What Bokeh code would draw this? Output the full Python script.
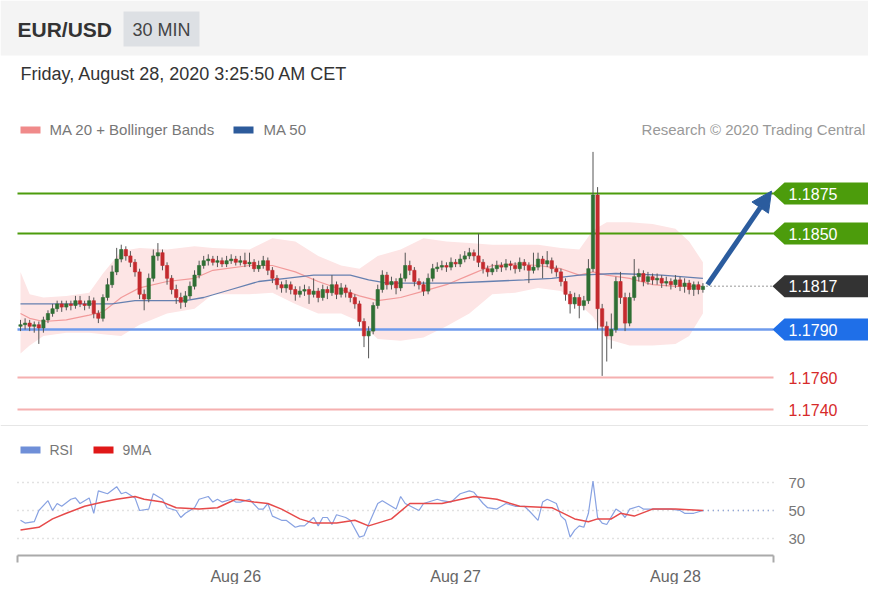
from bokeh.plotting import figure
from bokeh.models import Range1d, ColumnDataSource, Label, Arrow, NormalHead
from bokeh.core.properties import value
from bokeh.embed import file_html
from bokeh.resources import INLINE

# ---------------- data ----------------
opens = [
1.1792, 1.1793, 1.1794, 1.1792, 1.1793, 1.1791, 1.1796, 1.1800, 1.1803, 1.1806,
1.1804, 1.1806, 1.1805, 1.1808, 1.1806, 1.1805, 1.1808, 1.1800, 1.1797, 1.1810,
1.1818, 1.1826, 1.1834, 1.1840, 1.1836, 1.1832, 1.1826, 1.1812, 1.1809, 1.1822,
1.1836, 1.1838, 1.1830, 1.1822, 1.1815, 1.1810, 1.1807, 1.1811, 1.1817, 1.1824,
1.1830, 1.1833, 1.1834, 1.1832, 1.1833, 1.1831, 1.1833, 1.1834, 1.1832, 1.1833,
1.1831, 1.1832, 1.1828, 1.1830, 1.1833, 1.1827, 1.1822, 1.1818, 1.1816, 1.1818,
1.1815, 1.1812, 1.1814, 1.1815, 1.1812, 1.1814, 1.1810, 1.1815, 1.1813, 1.1818,
1.1812, 1.1816, 1.1813, 1.1810, 1.1806, 1.1795, 1.1786, 1.1789, 1.1805, 1.1815,
1.1824, 1.1818, 1.1820, 1.1816, 1.1822, 1.1830, 1.1827, 1.1820, 1.1818, 1.1814,
1.1822, 1.1828, 1.1829, 1.1830, 1.1829, 1.1832, 1.1831, 1.1834, 1.1836, 1.1838,
1.1836, 1.1832, 1.1828, 1.1826, 1.1828, 1.1830, 1.1829, 1.1831, 1.1830, 1.1828,
1.1832, 1.1830, 1.1827, 1.1829, 1.1834, 1.1831, 1.1833, 1.1828, 1.1826, 1.1820,
1.1812, 1.1806, 1.1810, 1.1805, 1.1808, 1.1828, 1.1874, 1.1803, 1.1792, 1.1786,
1.1790, 1.1820, 1.1810, 1.1794, 1.1810, 1.1823, 1.1825, 1.1820, 1.1823, 1.1821,
1.1822, 1.1819, 1.1820, 1.1818, 1.1821, 1.1817, 1.1819, 1.1815, 1.1818, 1.1815,
]
closes = [
1.1793, 1.1794, 1.1792, 1.1793, 1.1791, 1.1796, 1.1800, 1.1803, 1.1806, 1.1804,
1.1806, 1.1805, 1.1808, 1.1806, 1.1805, 1.1808, 1.1800, 1.1797, 1.1810, 1.1818,
1.1826, 1.1834, 1.1840, 1.1836, 1.1832, 1.1826, 1.1812, 1.1809, 1.1822, 1.1836,
1.1838, 1.1830, 1.1822, 1.1815, 1.1810, 1.1807, 1.1811, 1.1817, 1.1824, 1.1830,
1.1833, 1.1834, 1.1832, 1.1833, 1.1831, 1.1833, 1.1834, 1.1832, 1.1833, 1.1831,
1.1832, 1.1828, 1.1830, 1.1833, 1.1827, 1.1822, 1.1818, 1.1816, 1.1818, 1.1815,
1.1812, 1.1814, 1.1815, 1.1812, 1.1814, 1.1810, 1.1815, 1.1813, 1.1818, 1.1812,
1.1816, 1.1813, 1.1810, 1.1806, 1.1795, 1.1786, 1.1789, 1.1805, 1.1815, 1.1824,
1.1818, 1.1820, 1.1816, 1.1822, 1.1830, 1.1827, 1.1820, 1.1818, 1.1814, 1.1822,
1.1828, 1.1829, 1.1830, 1.1829, 1.1832, 1.1831, 1.1834, 1.1836, 1.1838, 1.1836,
1.1832, 1.1828, 1.1826, 1.1828, 1.1830, 1.1829, 1.1831, 1.1830, 1.1828, 1.1832,
1.1830, 1.1827, 1.1829, 1.1834, 1.1831, 1.1833, 1.1828, 1.1826, 1.1820, 1.1812,
1.1806, 1.1810, 1.1805, 1.1808, 1.1828, 1.1874, 1.1803, 1.1792, 1.1786, 1.1790,
1.1820, 1.1810, 1.1794, 1.1810, 1.1823, 1.1825, 1.1820, 1.1823, 1.1821, 1.1822,
1.1819, 1.1820, 1.1818, 1.1821, 1.1817, 1.1819, 1.1815, 1.1818, 1.1815, 1.1817,
]
highs = [
1.1796, 1.1797, 1.1796, 1.1795, 1.1795, 1.1798, 1.1802, 1.1806, 1.1808, 1.1808,
1.1808, 1.1808, 1.1811, 1.1811, 1.1808, 1.1811, 1.1810, 1.1802, 1.1812, 1.1822,
1.1830, 1.1841, 1.1843, 1.1842, 1.1839, 1.1834, 1.1828, 1.1815, 1.1825, 1.1840,
1.1844, 1.1840, 1.1832, 1.1824, 1.1818, 1.1813, 1.1814, 1.1820, 1.1827, 1.1833,
1.1836, 1.1837, 1.1836, 1.1836, 1.1835, 1.1836, 1.1837, 1.1836, 1.1836, 1.1838,
1.1838, 1.1834, 1.1833, 1.1836, 1.1835, 1.1829, 1.1824, 1.1820, 1.1821, 1.1820,
1.1817, 1.1817, 1.1818, 1.1817, 1.1822, 1.1816, 1.1818, 1.1817, 1.1824, 1.1820,
1.1819, 1.1818, 1.1815, 1.1812, 1.1808, 1.1797, 1.1792, 1.1807, 1.1818, 1.1827,
1.1826, 1.1823, 1.1822, 1.1825, 1.1838, 1.1833, 1.1829, 1.1822, 1.1820, 1.1825,
1.1831, 1.1832, 1.1833, 1.1832, 1.1835, 1.1834, 1.1837, 1.1839, 1.1841, 1.1840,
1.1850, 1.1834, 1.1830, 1.1831, 1.1833, 1.1832, 1.1834, 1.1833, 1.1832, 1.1835,
1.1834, 1.1832, 1.1838, 1.1838, 1.1836, 1.1839, 1.1835, 1.1830, 1.1828, 1.1822,
1.1814, 1.1813, 1.1812, 1.1811, 1.1834, 1.1901, 1.1879, 1.1806, 1.1795, 1.1800,
1.1823, 1.1826, 1.1813, 1.1813, 1.1834, 1.1828, 1.1827, 1.1826, 1.1825, 1.1825,
1.1824, 1.1823, 1.1822, 1.1824, 1.1823, 1.1822, 1.1821, 1.1820, 1.1820, 1.1819,
]
lows = [
1.1789, 1.1790, 1.1789, 1.1788, 1.1781, 1.1788, 1.1794, 1.1798, 1.1801, 1.1801,
1.1802, 1.1802, 1.1803, 1.1804, 1.1802, 1.1803, 1.1797, 1.1794, 1.1795, 1.1808,
1.1816, 1.1824, 1.1832, 1.1833, 1.1829, 1.1823, 1.1809, 1.1802, 1.1807, 1.1820,
1.1833, 1.1827, 1.1818, 1.1812, 1.1806, 1.1803, 1.1804, 1.1809, 1.1815, 1.1822,
1.1828, 1.1830, 1.1830, 1.1829, 1.1829, 1.1829, 1.1831, 1.1830, 1.1830, 1.1829,
1.1829, 1.1826, 1.1826, 1.1828, 1.1824, 1.1819, 1.1815, 1.1813, 1.1813, 1.1812,
1.1808, 1.1810, 1.1811, 1.1806, 1.1810, 1.1807, 1.1808, 1.1809, 1.1811, 1.1809,
1.1810, 1.1810, 1.1807, 1.1803, 1.1792, 1.1779, 1.1772, 1.1787, 1.1803, 1.1813,
1.1815, 1.1815, 1.1812, 1.1814, 1.1820, 1.1824, 1.1817, 1.1815, 1.1811, 1.1812,
1.1820, 1.1826, 1.1827, 1.1826, 1.1827, 1.1829, 1.1829, 1.1832, 1.1834, 1.1833,
1.1829, 1.1825, 1.1823, 1.1824, 1.1826, 1.1826, 1.1827, 1.1827, 1.1825, 1.1826,
1.1827, 1.1819, 1.1825, 1.1827, 1.1822, 1.1829, 1.1825, 1.1823, 1.1817, 1.1808,
1.1800, 1.1803, 1.1797, 1.1802, 1.1806, 1.1826, 1.1790, 1.1761, 1.1770, 1.1778,
1.1788, 1.1806, 1.1789, 1.1792, 1.1808, 1.1820, 1.1817, 1.1818, 1.1818, 1.1818,
1.1816, 1.1817, 1.1815, 1.1816, 1.1814, 1.1813, 1.1812, 1.1811, 1.1812, 1.1813,
]

band_idx = [0, 2, 5, 10, 15, 18, 22, 26, 32, 38, 42, 50, 55, 60, 65, 70, 74, 78, 83, 88,
            93, 98, 103, 108, 113, 118, 122, 125, 128, 133, 138, 143, 146, 149]
band_upper = [1.1826, 1.1812, 1.1810, 1.1811, 1.1813, 1.1825, 1.1839, 1.1841, 1.1840, 1.1842,
              1.1841, 1.1840, 1.1847, 1.1845, 1.1836, 1.1830, 1.1828, 1.1836, 1.1840, 1.1847,
              1.1845, 1.1844, 1.1843, 1.1843, 1.1843, 1.1841, 1.1840, 1.1852, 1.1857, 1.1857,
              1.1856, 1.1853, 1.1845, 1.1832]
ma20 = [1.1800, 1.1797, 1.1795, 1.1796, 1.1799, 1.1801, 1.1810, 1.1816, 1.1820, 1.1822,
        1.1827, 1.1830, 1.1830, 1.1826, 1.1820, 1.1815, 1.1811, 1.1808, 1.1810, 1.1814,
        1.1818, 1.1824, 1.1830, 1.1831, 1.1830, 1.1828, 1.1824, 1.1826, 1.1824, 1.1822,
        1.1818, 1.1817, 1.1817, 1.1817]
band_lower = [1.1775, 1.1780, 1.1786, 1.1788, 1.1788, 1.1787, 1.1786, 1.1793, 1.1800, 1.1803,
              1.1812, 1.1812, 1.1813, 1.1806, 1.1800, 1.1800, 1.1795, 1.1784, 1.1783, 1.1785,
              1.1792, 1.1800, 1.1812, 1.1813, 1.1816, 1.1814, 1.1806, 1.1798, 1.1784, 1.1780,
              1.1780, 1.1781, 1.1786, 1.1800]

ma50_idx = [0, 10, 20, 25, 36, 40, 46, 52, 58, 64, 72, 76, 80, 94, 102, 110, 116, 122, 130, 140, 149]
ma50 = [1.1806, 1.1806, 1.1806, 1.1808, 1.1808, 1.1810, 1.1815, 1.1820, 1.1822, 1.1824, 1.1824,
        1.1821, 1.1819, 1.1819, 1.1820, 1.1821, 1.1822, 1.1824, 1.1825, 1.1824, 1.1822]

rsi_idx = [0, 1, 3, 4, 6, 7, 8, 9, 11, 12, 13, 15, 16, 17, 19, 21, 22, 23, 25, 26,
           28, 29, 31, 32, 34, 35, 36, 38, 39, 41, 42, 43, 44, 46, 47, 48, 50, 52, 53, 54,
           55, 57, 58, 60, 61, 62, 64, 65, 66, 67, 68, 69, 71, 72, 74, 75, 76, 78, 79, 80,
           82, 83, 84, 87, 88, 91, 92, 94, 96, 98, 99, 101, 102, 104, 106, 108, 110, 111, 113, 114,
           115, 117, 118, 119, 120, 121, 122, 123, 124, 125, 126, 127, 128, 130, 131, 132, 133, 135, 136, 138,
           140, 142, 144, 145, 147, 149]
rsi = [43, 41, 42, 50, 57, 50, 55, 53, 58, 59, 55, 59, 48, 64, 62, 67, 62, 63, 59, 50,
       51, 62, 58, 52, 50, 45, 48, 52, 58, 60, 56, 58, 56, 58, 56, 56, 58, 51, 51, 55,
       46, 43, 43, 38, 39, 39, 45, 39, 45, 45, 40, 47, 45, 43, 31, 32, 40, 55, 57, 55,
       51, 60, 55, 50, 55, 58, 57, 56, 62, 64, 63, 55, 52, 51, 55, 53, 53, 50, 43, 56,
       58, 55, 46, 43, 31, 36, 39, 38, 48, 71, 45, 41, 40, 51, 49, 45, 51, 53, 51, 51,
       51, 51, 50, 48, 48, 50]

ma9_idx = [0, 4, 7, 10, 14, 18, 21, 25, 27, 31, 34, 39, 43, 47, 51, 54, 57, 61, 64, 69,
           73, 76, 81, 85, 90, 92, 99, 104, 109, 116, 121, 124, 126, 129, 131, 134, 138, 143, 149]
rsi_ma9 = [36, 38, 44, 48, 53, 56, 58, 60, 58, 56, 52, 51, 52, 58, 56, 55, 51, 44, 41, 41,
           43, 39, 44, 55, 55, 55, 60, 58, 53, 52, 44, 42, 44, 44, 48, 46, 51, 51, 50]

resistances = [1.1875, 1.1850]
pivot = 1.1790
supports = [1.1760, 1.1740]
last_price = 1.1817
target = 1.1875
rsi_levels = [70, 50, 30]
rsi_level_labels = ["70", "50", "30"]
date_idx = [47, 95, 143]
date_labels = ["Aug 26", "Aug 27", "Aug 28"]

# ---------------- geometry (page pixels -> data) ----------------
W, H = 868, 584
OFF = 0                 # the figure lands at the top-left of the screenshot
BAR_PX = 4.58           # pixels per 30-min bar
BAR0_X = 20             # page x of bar 0
P_REF, P_REF_Y, P_PX = 1.1790, 329, 16000.0
R_REF_Y, R_PX = 510, 1.4


def ix(X):
    return (X - BAR0_X) / BAR_PX


def py(Y):
    return P_REF + (P_REF_Y - Y) / P_PX


p = figure(width=W, height=H, output_backend="svg", toolbar_location=None,
           x_range=Range1d(ix(OFF), ix(OFF + W)), y_range=Range1d(py(OFF + H), py(OFF)),
           x_axis_location=None, y_axis_location=None, min_border=0,
           outline_line_color=None, background_fill_color="white",
           border_fill_color="white")
p.xgrid.visible = False
p.ygrid.visible = False
p.extra_y_ranges = {"rsi": Range1d(50 - (OFF + H - R_REF_Y) / R_PX, 50 + (R_REF_Y - OFF) / R_PX)}

FONT = "Liberation Sans"
XL, XR = ix(17), ix(773)

# header
p.quad(left=ix(0), right=ix(884), top=py(0), bottom=py(55), fill_color="#f4f4f4", line_color=None)
p.quad(left=ix(123), right=ix(199), top=py(11), bottom=py(46), fill_color="#dde0e4", line_color=None)
p.add_layout(Label(x=ix(17), y=py(29), text="EUR/USD", text_font=FONT, text_font_style="bold",
                   text_font_size="21px", text_color="#333333", text_baseline="middle"))
p.add_layout(Label(x=ix(161), y=py(29), text="30 MIN", text_font=FONT, text_font_size="18px",
                   text_color="#444444", text_baseline="middle", text_align="center"))
p.add_layout(Label(x=ix(20), y=py(73), text="Friday, August 28, 2020 3:25:50 AM CET", text_font=FONT,
                   text_font_size="18px", text_color="#333333", text_baseline="middle"))

# legends
p.quad(left=ix(20), right=ix(40), top=py(126), bottom=py(133), fill_color="#f08a8a", line_color=None)
p.add_layout(Label(x=ix(49), y=py(129), text="MA 20 + Bollinger Bands", text_font=FONT,
                   text_font_size="15px", text_color="#777777", text_baseline="middle"))
p.quad(left=ix(233), right=ix(253), top=py(126), bottom=py(133), fill_color="#2d5b9b", line_color=None)
p.add_layout(Label(x=ix(263), y=py(129), text="MA 50", text_font=FONT,
                   text_font_size="15px", text_color="#777777", text_baseline="middle"))
p.add_layout(Label(x=ix(865), y=py(129), text="Research \u00a9 2020 Trading Central", text_font=FONT,
                   text_font_size="15px", text_color="#999999", text_baseline="middle", text_align="right"))

# separator between panels
p.segment(x0=[ix(0)], x1=[ix(884)], y0=[py(425)], y1=[py(425)], line_color="#e6e6e6", line_width=1)

# bollinger band + MAs
p.varea(x=band_idx, y1=band_lower, y2=band_upper, fill_color="#fde5e5")
p.line(band_idx, ma20, line_color="#f29a9a", line_width=1.2)
p.line(ma50_idx, ma50, line_color="#6680b0", line_width=1.3)

# level lines
p.segment(x0=[XL] * 2, x1=[XR] * 2, y0=resistances, y1=resistances, line_color="#4c9c0c", line_width=2.2)
p.segment(x0=[XL], x1=[XR], y0=[pivot], y1=[pivot], line_color="#6f9bec", line_width=2.4)
p.segment(x0=[XL] * 2, x1=[XR] * 2, y0=supports, y1=supports, line_color="#f5b0b0", line_width=2)
p.segment(x0=[ix(706)], x1=[ix(772)], y0=[last_price], y1=[last_price], line_color="#777777",
          line_width=1.5, line_dash="1 3")

# candles
idx = list(range(len(closes)))
src = ColumnDataSource(dict(
    x=idx, o=opens, h=highs, l=lows, c=closes,
    top=[max(a, b) for a, b in zip(opens, closes)],
    bot=[min(a, b) for a, b in zip(opens, closes)],
    col=["#2f6f34" if c >= o else "#c42a2e" for o, c in zip(opens, closes)],
))
p.segment(x0="x", x1="x", y0="h", y1="l", source=src, line_color="#555555", line_width=1)
p.vbar(x="x", width=0.72, top="top", bottom="bot", source=src, fill_color="col", line_color="col",
       line_width=0.6)

# forecast arrow
p.add_layout(Arrow(x_start=idx[-1] + 1, y_start=closes[-1] + 0.0001, x_end=ix(771), y_end=target + 0.00015,
                   line_color="#2b5c9e", line_width=5,
                   end=NormalHead(size=20, fill_color="#2b5c9e", line_color="#2b5c9e")))

# price tags
dp = 11 / P_PX
tag_prices = resistances + [last_price, pivot]
tag_colors = ["#4c9c0c", "#4c9c0c", "#333333", "#1f6fe8"]
xs, ys = [], []
for pr in tag_prices:
    xs.append([ix(772), ix(784), ix(880), ix(880), ix(784)])
    ys.append([pr, pr + dp, pr + dp, pr - dp, pr - dp])
p.patches(xs=xs, ys=ys, fill_color=tag_colors, line_color=None)
p.text(x=[ix(788)] * len(tag_prices), y=tag_prices, text=["%.4f" % v for v in tag_prices],
       text_font=value(FONT), text_font_size="16px", text_color="white", text_baseline="middle")
p.text(x=[ix(788)] * len(supports), y=supports, text=["%.4f" % v for v in supports],
       text_font=value(FONT), text_font_size="16px", text_color="#d62a2a", text_baseline="middle")

# ---------------- RSI panel ----------------
p.quad(left=ix(20), right=ix(40), top=py(446), bottom=py(453), fill_color="#6f8fd8", line_color=None)
p.add_layout(Label(x=ix(49), y=py(449), text="RSI", text_font=FONT, text_font_size="14px",
                   text_color="#777777", text_baseline="middle"))
p.quad(left=ix(93), right=ix(113), top=py(446), bottom=py(453), fill_color="#e01818", line_color=None)
p.add_layout(Label(x=ix(122), y=py(449), text="9MA", text_font=FONT, text_font_size="14px",
                   text_color="#777777", text_baseline="middle"))

p.segment(x0=[XL] * 3, x1=[XR] * 3, y0=rsi_levels, y1=rsi_levels, y_range_name="rsi",
          line_color="#c4c4c4", line_width=1.5, line_dash="1 4")
p.segment(x0=[idx[-1]], x1=[XR], y0=[rsi[-1]], y1=[rsi[-1]], y_range_name="rsi",
          line_color="#8aa2dc", line_width=1.5, line_dash="1 4")
p.line(rsi_idx, rsi, y_range_name="rsi", line_color="#88a2e2", line_width=1.2)
p.line(ma9_idx, rsi_ma9, y_range_name="rsi", line_color="#e64a4a", line_width=1.5)
p.text(x=[ix(788)] * 3, y=rsi_levels, text=rsi_level_labels, y_range_name="rsi",
       text_font=value(FONT), text_font_size="15px", text_color="#777777", text_baseline="middle")

# x axis
p.segment(x0=[XL], x1=[XR], y0=[py(555)], y1=[py(555)], line_color="#aaaaaa", line_width=2)
p.segment(x0=[XL, XR], x1=[XL, XR], y0=[py(555)] * 2, y1=[py(562)] * 2, line_color="#aaaaaa", line_width=2)
p.text(x=date_idx, y=[py(576)] * 3, text=date_labels, text_font=value(FONT), text_font_size="16px",
       text_color="#666666", text_baseline="middle", text_align="center")

open("out.html", "w").write(file_html(p, INLINE))
